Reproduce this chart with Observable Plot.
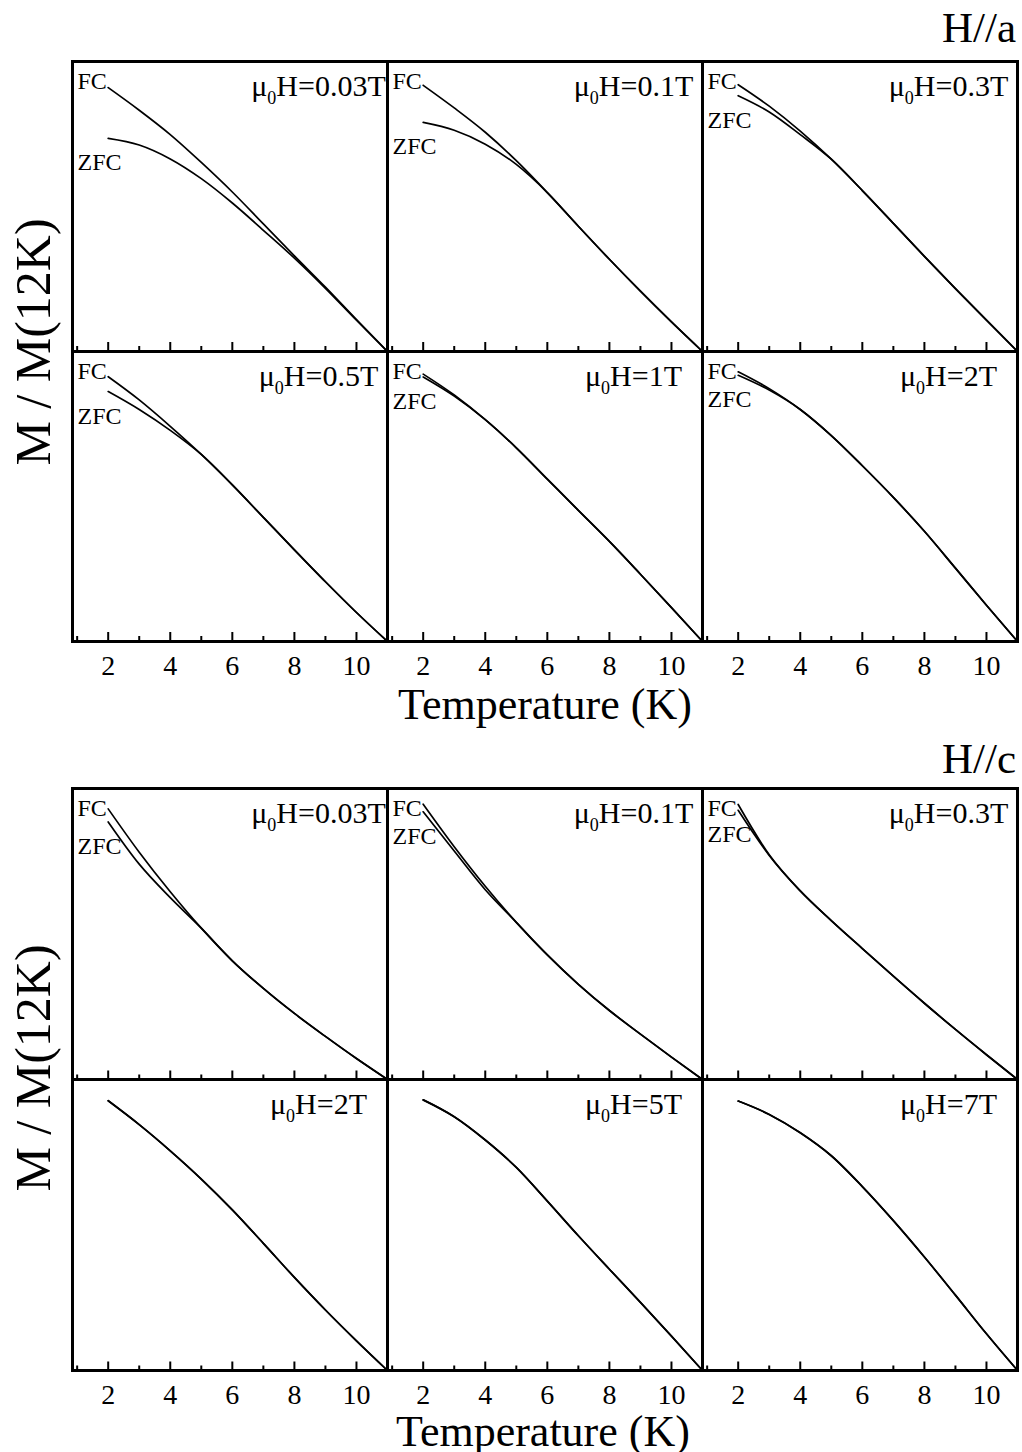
<!DOCTYPE html>
<html><head><meta charset="utf-8">
<script src="https://cdn.jsdelivr.net/npm/d3@7"></script>
<script src="https://cdn.jsdelivr.net/npm/@observablehq/plot@0.6"></script>
<style>
body{margin:0;background:#fff;}
#wrap{position:relative;width:1022px;height:1452px;overflow:hidden;font-family:"Liberation Serif","Times New Roman",serif;color:#000;background:#fff;}
.lbl{position:absolute;line-height:1;white-space:nowrap;}
.plot{position:absolute;left:0;}
</style></head><body><div id="wrap"></div>
<script>
// ---------- data (y is M/M(12K) as fraction of panel height) ----------
const temperatures = [2, 3, 4, 5, 6, 7, 8, 9, 10, 11];
const majorTicks = [2, 4, 6, 8, 10];
const minorTicks = [1, 3, 5, 7, 9];

// H // a
const fieldsA = ["0.03", "0.1", "0.3", "0.5", "1", "2"];
const fcA_003  = [0.910, 0.832, 0.748, 0.652, 0.550, 0.440, 0.330, 0.222, 0.110, 0];
const zfcA_003 = [0.735, 0.712, 0.664, 0.596, 0.512, 0.418, 0.322, 0.218, 0.108, 0];
const fcA_01   = [0.918, 0.840, 0.756, 0.658, 0.548, 0.432, 0.318, 0.208, 0.102, 0];
const zfcA_01  = [0.790, 0.763, 0.715, 0.645, 0.548, 0.432, 0.318, 0.208, 0.102, 0];
const fcA_03   = [0.920, 0.846, 0.760, 0.663, 0.555, 0.442, 0.328, 0.217, 0.108, 0];
const zfcA_03  = [0.882, 0.826, 0.748, 0.663, 0.555, 0.442, 0.328, 0.217, 0.108, 0];
const fcA_05   = [0.913, 0.833, 0.742, 0.645, 0.540, 0.428, 0.316, 0.206, 0.100, 0];
const zfcA_05  = [0.862, 0.800, 0.728, 0.645, 0.540, 0.428, 0.316, 0.206, 0.100, 0];
const fcA_1    = [0.922, 0.850, 0.765, 0.668, 0.560, 0.452, 0.345, 0.232, 0.117, 0];
const zfcA_1   = [0.912, 0.846, 0.765, 0.668, 0.560, 0.452, 0.345, 0.232, 0.117, 0];
const fcA_2    = [0.930, 0.872, 0.800, 0.710, 0.606, 0.497, 0.380, 0.253, 0.125, 0];
const zfcA_2   = [0.918, 0.867, 0.800, 0.710, 0.606, 0.497, 0.380, 0.253, 0.125, 0];

// H // c
const fieldsC = ["0.03", "0.1", "0.3", "2", "5", "7"];
const fcC_003  = [0.930, 0.781, 0.645, 0.520, 0.408, 0.313, 0.227, 0.148, 0.072, 0];
const zfcC_003 = [0.885, 0.740, 0.625, 0.520, 0.408, 0.313, 0.227, 0.148, 0.072, 0];
const fcC_01   = [0.946, 0.800, 0.664, 0.540, 0.428, 0.327, 0.237, 0.156, 0.077, 0];
const zfcC_01  = [0.920, 0.785, 0.652, 0.540, 0.428, 0.327, 0.237, 0.156, 0.077, 0];
const fcC_03   = [0.945, 0.772, 0.648, 0.546, 0.450, 0.355, 0.262, 0.172, 0.085, 0];
const zfcC_03  = [0.925, 0.770, 0.648, 0.546, 0.450, 0.355, 0.262, 0.172, 0.085, 0];
const fcC_2    = [0.927, 0.845, 0.755, 0.658, 0.552, 0.437, 0.320, 0.208, 0.102, 0];
const zfcC_2   = [0.927, 0.845, 0.755, 0.658, 0.552, 0.437, 0.320, 0.208, 0.102, 0];
const fcC_5    = [0.930, 0.872, 0.792, 0.698, 0.582, 0.463, 0.348, 0.234, 0.118, 0];
const zfcC_5   = [0.930, 0.872, 0.792, 0.698, 0.582, 0.463, 0.348, 0.234, 0.118, 0];
const fcC_7    = [0.926, 0.880, 0.817, 0.738, 0.632, 0.515, 0.390, 0.259, 0.126, 0];
const zfcC_7   = [0.926, 0.880, 0.817, 0.738, 0.632, 0.515, 0.390, 0.259, 0.126, 0];

const showFcLabelsA = [true, true, true, true, true, true];
const showFcLabelsC = [true, true, true, false, false, false];

// ---------- drawing ----------
const FONT = "Liberation Serif, Times New Roman, serif";
const wrap = document.getElementById("wrap");

function block(fields, fcs, zfcs, showLabels, opts) {
  const rows = [];
  fields.forEach((f, i) => {
    const col = i % 3, row = Math.floor(i / 3);
    temperatures.forEach((t, j) => {
      rows.push({T: t, M: fcs[i][j], mode: "FC", col, row});
      rows.push({T: t, M: zfcs[i][j], mode: "ZFC", col, row});
    });
  });
  const panels = fields.map((f, i) => ({
    field: f, col: i % 3, row: Math.floor(i / 3),
    zfcStart: zfcs[i][0], labels: showLabels[i]
  }));
  const labelled = panels.filter(p => p.labels);
  const facetH = (opts.height - opts.marginTop - opts.marginBottom) / 2;
  const svg = Plot.plot({
    width: 1022,
    height: opts.height,
    marginLeft: 71, marginRight: 4,
    marginTop: opts.marginTop, marginBottom: opts.marginBottom,
    style: {fontFamily: FONT, background: "white", color: "black"},
    x: {domain: [0.85, 11], label: null},
    y: {domain: [0, 1], axis: null},
    fx: {domain: [0, 1, 2], axis: null, padding: 0},
    fy: {domain: [0, 1], axis: null, padding: 0},
    marks: [
      Plot.line(rows, {x: "T", y: "M", z: "mode", fx: "col", fy: "row",
        curve: "monotone-x", stroke: "black", strokeWidth: 1.7}),
      Plot.tickX(majorTicks, {x: d => d, insetTop: facetH - 9, strokeWidth: 2, stroke: "black"}),
      Plot.tickX(minorTicks, {x: d => d, insetTop: facetH - 5, strokeWidth: 2, stroke: "black"}),
      Plot.frame({stroke: "black", strokeWidth: 3}),
      Plot.axisX({ticks: majorTicks, tickSize: 0, tickPadding: 14, fontSize: 28,
        fontFamily: FONT, label: null, tickFormat: d => String(d)}),
      Plot.text(labelled, {fx: "col", fy: "row", frameAnchor: "top-left",
        text: () => "FC", dx: 5, dy: 10, lineAnchor: "top", textAnchor: "start",
        fontSize: 24, fontFamily: FONT, fill: "black"}),
      Plot.text(labelled, {fx: "col", fy: "row", y: "zfcStart", frameAnchor: "left",
        text: () => "ZFC", dx: 5, dy: 15, lineAnchor: "top", textAnchor: "start",
        fontSize: 24, fontFamily: FONT, fill: "black"}),
      Plot.text(panels, {fx: "col", fy: "row", frameAnchor: "top-right",
        text: d => `μ0H=${d.field}T`, dx: -69, dy: 13, lineAnchor: "top", textAnchor: "middle",
        fontSize: 30, fontFamily: FONT, fill: "black"})
    ]
  });
  // subscript 0 in μ0H
  const NS = "http://www.w3.org/2000/svg";
  svg.querySelectorAll("text").forEach(t => {
    const s = t.textContent;
    if (s.startsWith("μ0H")) {
      t.textContent = "";
      const a = document.createElementNS(NS, "tspan"); a.textContent = "μ";
      const b = document.createElementNS(NS, "tspan"); b.textContent = "0";
      b.setAttribute("font-size", "18"); b.setAttribute("dy", "8");
      const c = document.createElementNS(NS, "tspan"); c.textContent = s.slice(2);
      c.setAttribute("dy", "-8");
      t.append(a, b, c);
    }
  });
  svg.classList.add("plot");
  svg.style.top = opts.top + "px";
  wrap.appendChild(svg);
}

block(fieldsA, [fcA_003, fcA_01, fcA_03, fcA_05, fcA_1, fcA_2],
  [zfcA_003, zfcA_01, zfcA_03, zfcA_05, zfcA_1, zfcA_2], showFcLabelsA,
  {top: 0, height: 686, marginTop: 61, marginBottom: 45});
block(fieldsC, [fcC_003, fcC_01, fcC_03, fcC_2, fcC_5, fcC_7],
  [zfcC_003, zfcC_01, zfcC_03, zfcC_2, zfcC_5, zfcC_7], showFcLabelsC,
  {top: 726, height: 689, marginTop: 61, marginBottom: 45});

function label(text, css) {
  const d = document.createElement("div");
  d.className = "lbl";
  d.textContent = text;
  Object.assign(d.style, css);
  wrap.appendChild(d);
}
label("H//a", {right: "6px", top: "6px", fontSize: "43px"});
label("H//c", {right: "6px", top: "737px", fontSize: "43px"});
label("Temperature (K)", {left: "545px", top: "683px", fontSize: "44px", transform: "translateX(-50%)"});
label("Temperature (K)", {left: "543px", top: "1414px", fontSize: "44px", lineHeight: "0.8", transform: "translateX(-50%)"});
label("M / M(12K)", {left: "33px", top: "342px", fontSize: "50px", transform: "translate(-50%,-50%) rotate(-90deg)"});
label("M / M(12K)", {left: "33px", top: "1068px", fontSize: "50px", transform: "translate(-50%,-50%) rotate(-90deg)"});
</script></body></html>
